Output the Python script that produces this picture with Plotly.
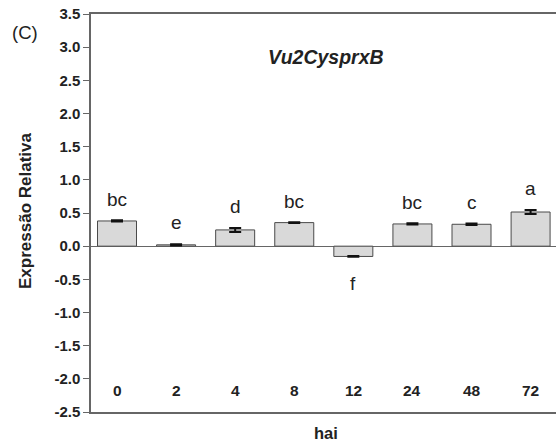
import plotly.graph_objects as go

categories = ["0", "2", "4", "8", "12", "24", "48", "72"]
values = [0.38, 0.02, 0.245, 0.355, -0.155, 0.335, 0.33, 0.515]
errors = [0.01, 0.01, 0.03, 0.005, 0.005, 0.01, 0.01, 0.03]
letters = ["bc", "e", "d", "bc", "f", "bc", "c", "a"]
y_ticks = [-2.5, -2.0, -1.5, -1.0, -0.5, 0.0, 0.5, 1.0, 1.5, 2.0, 2.5, 3.0, 3.5]

FONT = "Liberation Sans, Arial, sans-serif"
TXT = "#222222"

fig = go.Figure()
fig.add_trace(go.Bar(
    x=list(range(len(categories))), y=values,
    width=0.66,
    marker=dict(color="#d9d9d9", line=dict(color="#4a4a4a", width=1)),
    error_y=dict(type="data", array=errors, visible=True, color="#111111", thickness=2, width=6),
    showlegend=False,
))

annotations = []
for i, (v, e, l) in enumerate(zip(values, errors, letters)):
    y = v + e + 0.32 if v >= 0 else v - e - 0.4
    annotations.append(dict(x=i, y=y, text=l, showarrow=False, xref="x", yref="y",
                            xanchor="center", yanchor="middle",
                            font=dict(family=FONT, size=19, color=TXT)))
for i, c in enumerate(categories):
    annotations.append(dict(x=i, y=-2.17, text="<b>%s</b>" % c, showarrow=False, xref="x", yref="y",
                            xanchor="center", yanchor="middle",
                            font=dict(family=FONT, size=15.5, color=TXT)))
annotations.append(dict(x=-0.142, y=0.953, xref="paper", yref="paper", text="(C)", showarrow=False,
                        xanchor="center", yanchor="middle",
                        font=dict(family=FONT, size=18.5, color=TXT)))
annotations.append(dict(x=0.5058, y=0.893, xref="paper", yref="paper", text="<b><i>Vu2CysprxB</i></b>",
                        showarrow=False, xanchor="center", yanchor="middle",
                        font=dict(family=FONT, size=19.5, color=TXT)))
annotations.append(dict(x=0.5058, y=-0.053, xref="paper", yref="paper", text="<b>hai</b>",
                        showarrow=False, xanchor="center", yanchor="middle",
                        font=dict(family=FONT, size=16.5, color=TXT)))
annotations.append(dict(x=-0.142, y=0.505, xref="paper", yref="paper", text="<b>Expressão Relativa</b>",
                        textangle=-90, showarrow=False, xanchor="center", yanchor="middle",
                        font=dict(family=FONT, size=17, color=TXT)))

fig.update_layout(
    width=556, height=445,
    margin=dict(l=91, r=0, t=14, b=33),
    paper_bgcolor="white", plot_bgcolor="white",
    annotations=annotations,
)
fig.update_xaxes(range=[-0.44, 7.43], showticklabels=False, ticks="", showgrid=False,
                 showline=True, linecolor="#666666", linewidth=1.5, mirror=True, zeroline=False)
fig.update_yaxes(range=[-2.5, 3.5], tickvals=y_ticks, ticktext=["<b>%.1f</b>" % t for t in y_ticks],
                 tickfont=dict(family=FONT, size=15, color=TXT),
                 ticks="outside", ticklen=6, tickcolor="#666666", tickwidth=1.2,
                 showgrid=False, showline=True, linecolor="#666666", linewidth=1.5,
                 zeroline=True, zerolinecolor="#666666", zerolinewidth=1.2)

fig.write_html("out.html", config={"displayModeBar": False},
               post_script="document.body.style.margin='0';")
